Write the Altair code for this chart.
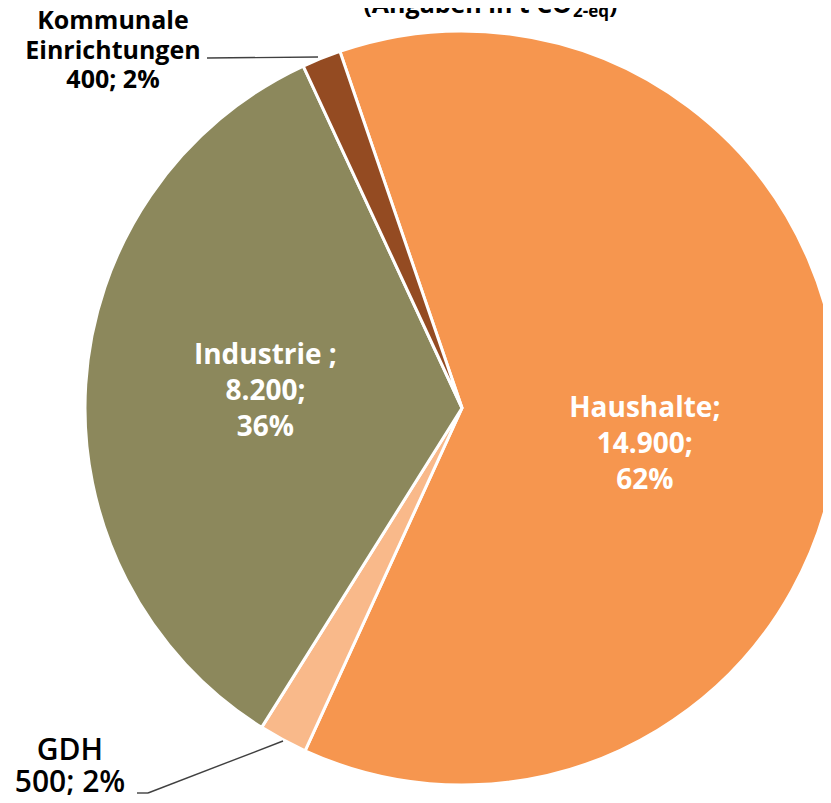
import math
import altair as alt
import pandas as pd

# ---- data ----
categories = ["Haushalte", "GDH", "Industrie", "Kommunale Einrichtungen"]
values = [14900, 500, 8200, 400]
percents = [62, 2, 36, 2]
label_texts = [
    "Haushalte;\n14.900;\n62%",
    "GDH\n500; 2%",
    "Industrie ;\n8.200;\n36%",
    "Kommunale\nEinrichtungen\n400; 2%",
]
slice_order = [0, 1, 2, 3]
colors = ["#F6964F", "#F9B98A", "#8C885C", "#944B22"]
title_parts = ["(Angaben in t CO", "2-eq", ")"]

df = pd.DataFrame({
    "cat": categories,
    "value": values,
    "pct": percents,
    "label": label_texts,
    "order": slice_order,
})

FONT = "Open Sans"
CX, CY = 454, 400
start = math.radians(-18.9)
theta = alt.Theta("value:Q", stack=True,
                  scale=alt.Scale(range=[start, start + 2 * math.pi]))
order = alt.Order("order:Q", sort="ascending")

base = alt.Chart(df)

arcs = base.mark_arc(outerRadius=377, stroke="white", strokeWidth=3).encode(
    theta=theta,
    order=order,
    color=alt.Color("cat:N", scale=alt.Scale(domain=categories, range=colors), legend=None),
    x=alt.value(CX),
    y=alt.value(CY),
)


def inside_label(cat, radius, dy):
    return base.mark_text(
        radius=radius, dy=dy, font=FONT, fontSize=28, fontWeight="bold",
        color="white", lineBreak="\n", lineHeight=36, baseline="middle", align="center",
    ).encode(
        theta=theta,
        order=order,
        text=alt.condition(alt.datum.cat == cat, alt.Text("label:N"), alt.value("")),
        x=alt.value(CX),
        y=alt.value(CY),
    )


t_haus = inside_label("Haushalte", 183, -8)
t_ind = inside_label("Industrie", 197, -40)

t_kom = base.transform_filter(alt.datum.cat == "Kommunale Einrichtungen").mark_text(
    font=FONT, fontSize=25, fontWeight="bold", color="black",
    lineBreak="\n", lineHeight=29.5, align="center", baseline="alphabetic",
).encode(text="label:N", x=alt.value(105), y=alt.value(21))

t_gdh = base.transform_filter(alt.datum.cat == "GDH").mark_text(
    font=FONT, fontSize=30, fontWeight=600, color="black",
    lineBreak="\n", lineHeight=32, align="center", baseline="alphabetic",
).encode(text="label:N", x=alt.value(62), y=alt.value(752))

one = alt.Data(values=[{"k": 0}])
rule_style = dict(color="#404040", strokeWidth=1.4)
lead_kom = alt.Chart(one).mark_rule(**rule_style).encode(
    x=alt.value(199), x2=alt.value(310), y=alt.value(50), y2=alt.value(49))
lead_gdh1 = alt.Chart(one).mark_rule(**rule_style).encode(
    x=alt.value(129), x2=alt.value(140), y=alt.value(785), y2=alt.value(785))
lead_gdh2 = alt.Chart(one).mark_rule(**rule_style).encode(
    x=alt.value(140), x2=alt.value(275), y=alt.value(785), y2=alt.value(733))

title_main = alt.Chart(one).mark_text(
    text=title_parts[0], font=FONT, fontSize=25, fontWeight="bold", color="black",
    align="right", baseline="alphabetic",
).encode(x=alt.value(564), y=alt.value(5))
title_sub = alt.Chart(one).mark_text(
    text=title_parts[1], font=FONT, fontSize=17, fontWeight="bold", color="black",
    align="left", baseline="alphabetic",
).encode(x=alt.value(565), y=alt.value(9))
title_end = alt.Chart(one).mark_text(
    text=title_parts[2], font=FONT, fontSize=25, fontWeight="bold", color="black",
    align="left", baseline="alphabetic",
).encode(x=alt.value(601), y=alt.value(5))

chart = alt.layer(
    arcs, t_haus, t_ind, t_kom, t_gdh, lead_kom, lead_gdh1, lead_gdh2,
    title_main, title_sub, title_end,
).properties(
    width=815, height=787, padding=0,
    autosize=alt.AutoSizeParams(type="none"),
).configure_view(stroke=None)

chart.save("out.html", embed_options={"renderer": "svg", "actions": False})
